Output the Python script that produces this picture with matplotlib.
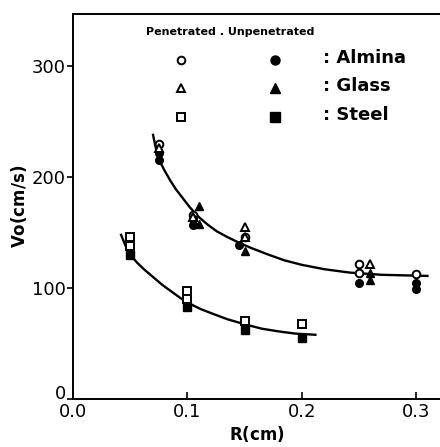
import matplotlib
matplotlib.use("Agg")
import matplotlib.pyplot as plt
from matplotlib.transforms import ScaledTranslation

alumina_open_R = [0.075, 0.105, 0.15, 0.25, 0.25, 0.30]
alumina_open_V = [230, 166, 146, 122, 114, 113]
alumina_fill_R = [0.075, 0.075, 0.105, 0.105, 0.145, 0.25, 0.30, 0.30]
alumina_fill_V = [222, 215, 162, 157, 139, 105, 105, 99]

glass_open_R = [0.075, 0.105, 0.15, 0.15, 0.26]
glass_open_V = [226, 164, 155, 146, 122]
glass_fill_R = [0.11, 0.11, 0.15, 0.26, 0.26]
glass_fill_V = [174, 158, 133, 114, 107]

steel_open_R = [0.05, 0.05, 0.10, 0.10, 0.15, 0.20]
steel_open_V = [146, 138, 97, 90, 70, 68]
steel_fill_R = [0.05, 0.10, 0.15, 0.20]
steel_fill_V = [130, 83, 62, 55]

# hand drawn curves
upper_R = [0.070, 0.072, 0.075, 0.080, 0.085, 0.090, 0.096, 0.102, 0.110,
           0.118, 0.126, 0.135, 0.145, 0.155, 0.17, 0.185, 0.20, 0.22,
           0.242, 0.27, 0.31]
upper_V = [238, 228, 216, 206, 197, 189, 181, 173, 164,
           157, 151, 146, 141, 136.5, 130.5, 125, 121, 117,
           114, 112, 111]
lower_R = [0.042, 0.046, 0.050, 0.056, 0.062, 0.070, 0.078, 0.086, 0.094,
           0.102, 0.112, 0.122, 0.135, 0.15, 0.165, 0.18, 0.195, 0.212]
lower_V = [148, 138, 130, 123, 117, 110, 103, 97, 91,
           86, 81, 77, 72, 67.5, 63.5, 61, 59, 58]

xticks = [0.0, 0.1, 0.2, 0.3]
xtick_labels = ["0.0", "0.1", "0.2", "0.3"]
yticks = [0, 100, 200, 300]

fig = plt.figure(figsize=(4.4, 4.47), dpi=100)
ax = fig.add_axes([0.166, 0.107, 0.834, 0.862])

ax.plot(upper_R, upper_V, color="black", lw=1.7, solid_joinstyle="round")
ax.plot(lower_R, lower_V, color="black", lw=1.7, solid_joinstyle="round")

ms = 5.5
ax.plot(alumina_open_R, alumina_open_V, "o", ms=ms, mfc="white", mec="black", mew=1.4, ls="none")
ax.plot(alumina_fill_R, alumina_fill_V, "o", ms=ms, color="black", ls="none")
ax.plot(glass_open_R, glass_open_V, "^", ms=ms, mfc="white", mec="black", mew=1.4, ls="none")
ax.plot(glass_fill_R, glass_fill_V, "^", ms=ms, color="black", ls="none")
ax.plot(steel_open_R, steel_open_V, "s", ms=ms, mfc="white", mec="black", mew=1.4, ls="none")
ax.plot(steel_fill_R, steel_fill_V, "s", ms=ms, color="black", ls="none")

ax.set_xlim(0, 0.321)
ax.set_ylim(0, 347)
ax.set_xticks(xticks)
ax.set_xticklabels(xtick_labels)
ax.set_yticks(yticks)
ax.tick_params(axis="x", direction="in", length=5, width=1.2, labelsize=13, pad=3)
ax.tick_params(axis="y", direction="out", length=4, width=1.2, labelsize=13, pad=1)
for s in ["left", "bottom", "top"]:
    ax.spines[s].set_linewidth(1.4)
ax.spines["right"].set_visible(False)

# the "0" sits a little above the axis in the original
lab0 = ax.get_yticklabels()[0]
lab0.set_transform(lab0.get_transform() + ScaledTranslation(0, 5 / 72, fig.dpi_scale_trans))

ax.set_xlabel(r"$\mathbf{R}$(cm)", fontsize=12, fontweight="bold", labelpad=2)
ax.set_ylabel(r"$\mathbf{V}$o(cm/s)", fontsize=12, fontweight="bold", labelpad=2)

# legend drawn by hand like the original
ax.text(0.2, 0.953, "Penetrated . Unpenetrated", transform=ax.transAxes,
        fontsize=8, fontweight="bold", va="center", ha="left")
rows = [(0.88, "o", ": Almina"), (0.808, "^", ": Glass"), (0.732, "s", ": Steel")]
for y, m, label in rows:
    ax.plot([0.294], [y], m, ms=ms, mfc="white", mec="black", mew=1.4,
            transform=ax.transAxes, clip_on=False)
    ax.plot([0.55], [y], m, ms=ms + 1, color="black",
            transform=ax.transAxes, clip_on=False)
    ax.text(0.68, y + 0.005, label, transform=ax.transAxes, fontsize=13,
            fontweight="bold", va="center", ha="left")

fig.savefig("out.png", dpi=100)
